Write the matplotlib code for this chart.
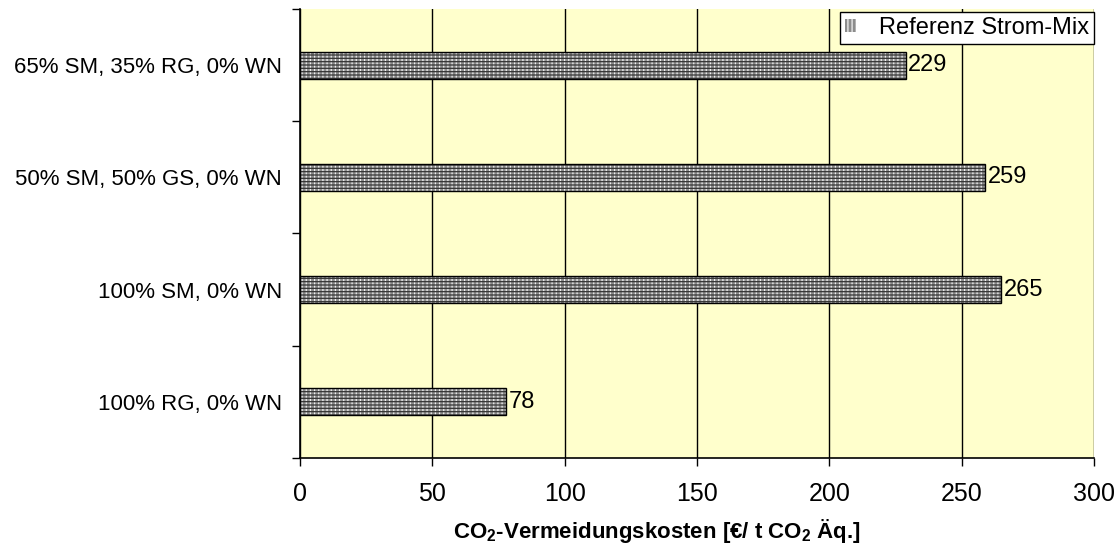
import numpy as np
import matplotlib
matplotlib.use('Agg')
from matplotlib import pyplot as plt

plt.rcParams['font.family'] = ['Liberation Sans', 'DejaVu Sans']
plt.rcParams['mathtext.fontset'] = 'custom'
plt.rcParams['mathtext.rm'] = 'Liberation Sans'
plt.rcParams['mathtext.bf'] = 'Liberation Sans:bold'
plt.rcParams['hatch.linewidth'] = 0.9

# Data (bottom to top)
szenarien = ['100% RG, 0% WN', '100% SM, 0% WN', '50% SM, 50% GS, 0% WN', '65% SM, 35% RG, 0% WN']
kosten = [78, 265, 259, 229]
serie = 'Referenz Strom-Mix'

fig = plt.figure(figsize=(11.17, 5.44), dpi=100)
ax = fig.add_axes([0.2686, 0.1581, 0.7108, 0.8254])
ax.set_facecolor('#FFFFCC')

ypos = np.arange(len(szenarien))
# gray bars with a fine checked fill, then a black outline on top
ax.barh(ypos, kosten, height=0.24, color='#8c8c8c', edgecolor='#f2f2f2',
        hatch='||||', linewidth=0, zorder=3, label=serie)
ax.barh(ypos, kosten, height=0.24, fill=False, edgecolor='#333333',
        hatch='-----', linewidth=0, zorder=3.5)
ax.barh(ypos, kosten, height=0.24, fill=False, edgecolor='black', linewidth=1, zorder=4)

for y, v in zip(ypos, kosten):
    ax.text(v + 0.8, y, str(v), ha='left', va='center', fontsize=17, zorder=5)

ax.set_xlim(0, 300)
ax.set_ylim(-0.5, len(szenarien) - 0.5)
ax.set_xticks(np.arange(0, 301, 50))
ax.tick_params(axis='x', labelsize=18, length=6, width=1, pad=11)
ax.xaxis.grid(True, color='black', linewidth=1, zorder=1)
ax.set_axisbelow(True)

# category labels centred, tick marks on boundaries
ax.set_yticks(np.arange(-0.5, len(szenarien), 1.0))
ax.set_yticklabels([])
ax.set_yticks(ypos, minor=True)
ax.set_yticklabels(szenarien, minor=True, fontsize=16)
ax.tick_params(axis='y', which='major', length=6, width=1)
ax.tick_params(axis='y', which='minor', length=0, pad=13)

ax.spines['top'].set_visible(False)
ax.spines['right'].set_visible(False)
ax.spines['left'].set_linewidth(1.2)
ax.spines['bottom'].set_linewidth(1.2)

ax.set_xlabel(r'CO$_\mathbf{2}$-Vermeidungskosten [€/ t CO$_\mathbf{2}$ Äq.]',
              fontsize=16, fontweight='bold')
ax.xaxis.set_label_coords(0.45, -0.132)

leg = ax.legend(loc='upper right', bbox_to_anchor=(1.0, 0.993), fontsize=17,
                fancybox=False, framealpha=1, edgecolor='black', borderpad=0.2,
                handlelength=0.45, handleheight=0.45, handletextpad=1.0,
                borderaxespad=0)
leg.get_frame().set_linewidth(1)
leg.set_zorder(6)

plt.savefig('out.png', dpi=100)
